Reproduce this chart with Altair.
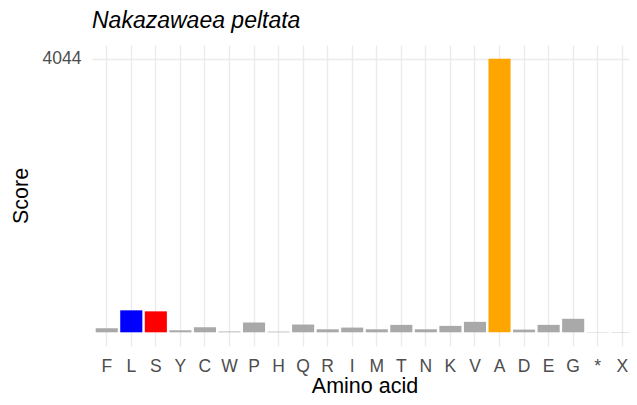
import altair as alt
import pandas as pd

amino_acids = ["F", "L", "S", "Y", "C", "W", "P", "H", "Q", "R", "I",
               "M", "T", "N", "K", "V", "A", "D", "E", "G", "*", "X"]
scores = [60, 325, 310, 30, 75, 12, 145, 10, 115, 45, 70,
          45, 110, 45, 95, 155, 4044, 40, 110, 200, 5, 5]
highlight = {"L": "#0000FF", "S": "#FF0000", "A": "#FFA500"}
bar_colors = [highlight.get(a, "#A9A9A9") for a in amino_acids]
y_ticks = [4044]

df = pd.DataFrame({"aa": amino_acids, "score": scores, "color": bar_colors})

FONT = "Liberation Sans"

chart = alt.Chart(df).mark_bar().encode(
    x=alt.X("aa:N", sort=amino_acids, title="Amino acid",
            scale=alt.Scale(paddingInner=0.1, paddingOuter=0.15, range=[0, 545], round=False),
            axis=alt.Axis(labelAngle=0, labelPadding=11, titlePadding=1,
                          bandPosition=0.5)),
    y=alt.Y("score:Q", title="Score",
            scale=alt.Scale(domain=[-202.2, 4246.2], nice=False, zero=False),
            axis=alt.Axis(values=y_ticks, format="d", labelPadding=11, titlePadding=9.5)),
    color=alt.Color("color:N", scale=None),
).properties(
    width=537,
    height=301,
    autosize=alt.AutoSizeParams(type="none"),
    padding={"left": 84, "top": 37, "right": 0, "bottom": 51},
    title=alt.TitleParams("Nakazawaea peltata", anchor="start", frame="group",
                          font=FONT, fontSize=23, fontStyle="italic",
                          fontWeight="normal", color="#000000", offset=12),
).configure_view(stroke=None).configure_axis(
    grid=True, gridColor="#EBEBEB", gridWidth=1.4, domain=False, ticks=False,
    tickSize=0, labelFont=FONT, labelFontSize=17.5, labelColor="#4D4D4D",
    titleFont=FONT, titleFontSize=21.5, titleFontWeight="normal", titleColor="#000000",
)

chart.save("out.html", embed_options={"renderer": "svg", "actions": False})
